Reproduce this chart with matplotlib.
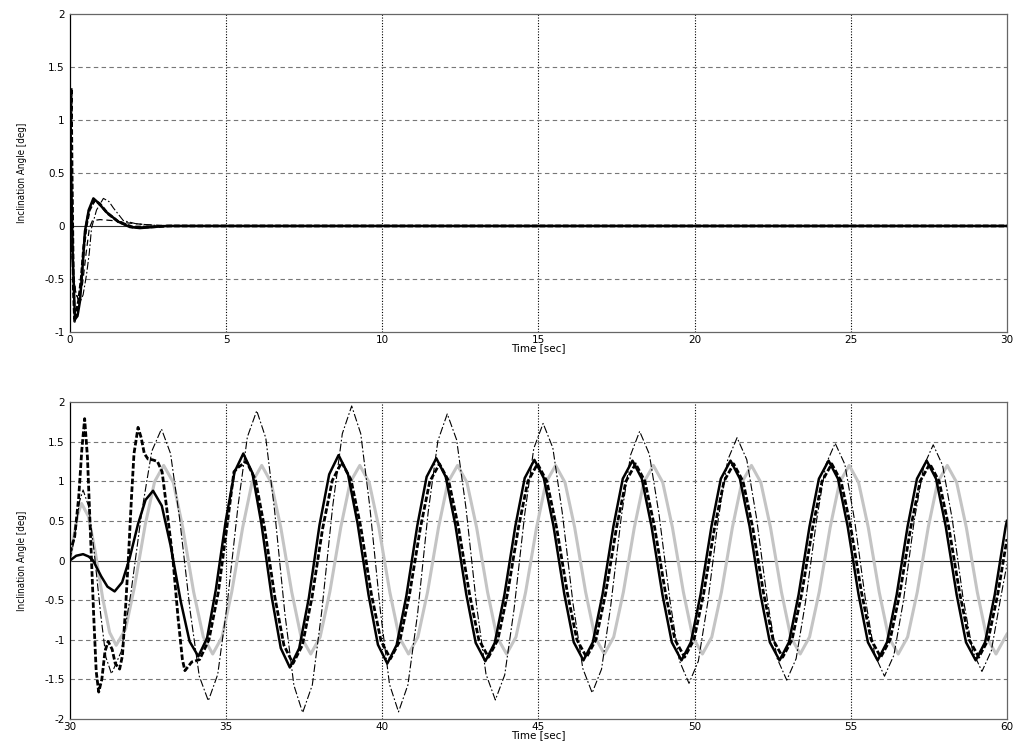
import matplotlib
matplotlib.use("Agg")
import matplotlib.pyplot as plt
from matplotlib.ticker import FormatStrFormatter

# ---- top panel (0..30 s), transient only ----
t_bs_top = [0, 0.03, 0.09, 0.16, 0.24, 0.32, 0.40, 0.48, 0.60, 0.75, 0.90, 1.17, 1.55, 1.92, 2.24, 2.67, 3.10, 4.0, 30]
v_bs_top = [0, 0.6, -0.3, -0.88, -0.85, -0.71, -0.40, -0.05, 0.15, 0.26, 0.22, 0.13, 0.04, -0.01, -0.02, -0.01, 0.0, 0.0, 0.0]

t_bd_top = [0, 0.02, 0.04, 0.07, 0.11, 0.15, 0.20, 0.28, 0.36, 0.44, 0.52, 0.62, 0.78, 0.95, 1.2, 1.55, 2.0, 2.5, 3.2, 30]
v_bd_top = [0, 0.9, 1.3, 0.4, -0.6, -0.9, -0.82, -0.7, -0.5, -0.2, 0.0, 0.15, 0.24, 0.21, 0.12, 0.04, -0.01, -0.01, 0.0, 0.0]

t_dd_top = [0, 0.05, 0.12, 0.20, 0.32, 0.42, 0.53, 0.62, 0.69, 0.85, 1.07, 1.25, 1.39, 1.71, 2.13, 3.0, 30]
v_dd_top = [0, -0.2, -0.5, -0.65, -0.72, -0.65, -0.46, -0.25, -0.02, 0.15, 0.26, 0.23, 0.17, 0.05, 0.02, 0.0, 0.0]

t_td_top = [0, 0.08, 0.18, 0.28, 0.40, 0.52, 0.62, 0.72, 0.96, 1.4, 1.81, 2.5, 3.5, 30]
v_td_top = [0, -0.35, -0.62, -0.7, -0.55, -0.25, -0.02, 0.05, 0.06, 0.05, 0.03, 0.01, 0.0, 0.0]

# ---- bottom panel (30..60 s) ----
# black solid
t_bs = [30.0, 30.2, 30.42, 30.6, 30.74, 31.0, 31.2, 31.43,
        31.67, 31.91, 32.18, 32.42, 32.66,
        32.94, 33.22, 33.55, 33.83, 34.11,
        34.39, 34.67, 34.99, 35.27, 35.55,
        35.84, 36.13, 36.46, 36.75, 37.04,
        37.34, 37.65, 37.99, 38.30, 38.60,
        38.90, 39.21, 39.56, 39.86, 40.16,
        40.46, 40.77, 41.12, 41.42, 41.73,
        42.03, 42.34, 42.69, 42.99, 43.30,
        43.60, 43.91, 44.26, 44.56, 44.87,
        45.17, 45.48, 45.83, 46.13, 46.44,
        46.74, 47.05, 47.40, 47.70, 48.01,
        48.31, 48.62, 48.97, 49.27, 49.58,
        49.88, 50.19, 50.54, 50.84, 51.15,
        51.45, 51.76, 52.11, 52.41, 52.72,
        53.02, 53.33, 53.68, 53.98, 54.29,
        54.59, 54.90, 55.25, 55.55, 55.86,
        56.16, 56.47, 56.82, 57.12, 57.43,
        57.73, 58.04, 58.39, 58.69, 59.00,
        59.30, 59.61, 59.96, 60.0]
v_bs = [0.0, 0.06, 0.08, 0.05, 0.0, -0.2, -0.33, -0.39,
        -0.275, 0.028, 0.462, 0.765, 0.88,
        0.691, 0.192, -0.522, -1.021, -1.21,
        -0.978, -0.368, 0.508, 1.118, 1.35,
        1.106, 0.462, -0.462, -1.106, -1.35,
        -1.107, -0.468, 0.448, 1.087, 1.33,
        1.092, 0.465, -0.435, -1.062, -1.30,
        -1.066, -0.448, 0.438, 1.056, 1.29,
        1.058, 0.448, -0.428, -1.038, -1.27,
        -1.040, -0.434, 0.434, 1.040, 1.27,
        1.041, 0.438, -0.428, -1.031, -1.26,
        -1.032, -0.431, 0.431, 1.032, 1.26,
        1.032, 0.431, -0.431, -1.032, -1.26,
        -1.032, -0.431, 0.431, 1.032, 1.26,
        1.032, 0.431, -0.431, -1.032, -1.26,
        -1.032, -0.431, 0.431, 1.032, 1.26,
        1.032, 0.431, -0.431, -1.032, -1.26,
        -1.032, -0.431, 0.431, 1.032, 1.26,
        1.032, 0.431, -0.431, -1.032, -1.26,
        -1.032, -0.431, 0.431, 0.50]

# light gray
t_g = [30.0, 30.12, 30.25, 30.37,
       30.59, 30.80, 31.05, 31.27, 31.48,
       31.78, 32.07, 32.41, 32.71, 33.0,
       33.31, 33.61, 33.96, 34.27, 34.57,
       34.87, 35.18, 35.53, 35.83, 36.14,
       36.44, 36.75, 37.10, 37.40, 37.71,
       38.01, 38.32, 38.67, 38.97, 39.28,
       39.58, 39.89, 40.24, 40.54, 40.84,
       41.14, 41.45, 41.80, 42.10, 42.41,
       42.71, 43.02, 43.37, 43.67, 43.98,
       44.28, 44.59, 44.94, 45.24, 45.55,
       45.85, 46.16, 46.51, 46.81, 47.11,
       47.41, 47.72, 48.07, 48.37, 48.68,
       48.98, 49.29, 49.64, 49.94, 50.25,
       50.55, 50.86, 51.21, 51.51, 51.82,
       52.12, 52.43, 52.78, 53.08, 53.38,
       53.68, 53.99, 54.34, 54.64, 54.95,
       55.25, 55.56, 55.91, 56.21, 56.52,
       56.82, 57.13, 57.48, 57.78, 58.09,
       58.39, 58.70, 59.05, 59.35, 59.65,
       59.95, 60.0]
v_g = [0.0, 0.3, 0.58, 0.72,
       0.558, 0.131, -0.481, -0.908, -1.07,
       -0.865, -0.323, 0.453, 0.995, 1.2,
       0.985, 0.417, -0.397, -0.965, -1.18,
       -0.965, -0.397, 0.417, 0.985, 1.2,
       0.985, 0.417, -0.397, -0.965, -1.18,
       -0.965, -0.397, 0.417, 0.985, 1.2,
       0.985, 0.417, -0.397, -0.965, -1.18,
       -0.965, -0.397, 0.417, 0.985, 1.2,
       0.985, 0.417, -0.397, -0.965, -1.18,
       -0.965, -0.397, 0.417, 0.985, 1.2,
       0.985, 0.417, -0.397, -0.965, -1.18,
       -0.965, -0.397, 0.417, 0.985, 1.2,
       0.985, 0.417, -0.397, -0.965, -1.18,
       -0.965, -0.397, 0.417, 0.985, 1.2,
       0.985, 0.417, -0.397, -0.965, -1.18,
       -0.965, -0.397, 0.417, 0.985, 1.2,
       0.985, 0.417, -0.397, -0.965, -1.18,
       -0.965, -0.397, 0.417, 0.985, 1.2,
       0.985, 0.417, -0.397, -0.965, -1.18,
       -0.965, -0.93]

# bold dashed
t_bd = [30.0, 30.15, 30.28, 30.38, 30.47, 30.56, 30.66, 30.76, 30.84, 30.92,
        31.02, 31.12, 31.22, 31.35, 31.45, 31.59, 31.68, 31.78, 31.88, 31.97,
        32.05, 32.18, 32.28, 32.38, 32.5, 32.65, 32.8, 32.95, 33.1, 33.3,
        33.46, 33.6, 33.68, 33.8, 33.9, 34.0, 34.15,
        34.45, 34.75, 35.05, 35.25, 35.4, 35.65,
        35.94, 36.23, 36.56, 36.85, 37.14,
        37.44, 37.75, 38.09, 38.40, 38.70,
        39.00, 39.31, 39.65, 39.96, 40.26,
        40.56, 40.87, 41.22, 41.52, 41.83,
        42.13, 42.44, 42.79, 43.09, 43.40,
        43.70, 44.01, 44.36, 44.66, 44.97,
        45.27, 45.58, 45.93, 46.23, 46.54,
        46.84, 47.15, 47.50, 47.80, 48.11,
        48.41, 48.72, 49.07, 49.37, 49.68,
        49.98, 50.29, 50.64, 50.94, 51.25,
        51.55, 51.86, 52.21, 52.51, 52.82,
        53.12, 53.43, 53.78, 54.08, 54.39,
        54.69, 55.00, 55.35, 55.65, 55.96,
        56.26, 56.57, 56.92, 57.22, 57.53,
        57.83, 58.14, 58.49, 58.79, 59.10,
        59.40, 59.71, 60.0]
v_bd = [0.1, 0.3, 0.8, 1.4, 1.79, 1.3, 0.3, -0.7, -1.4, -1.66,
        -1.5, -1.15, -1.02, -1.12, -1.3, -1.37, -1.2, -0.6, 0.1, 0.8,
        1.35, 1.68, 1.55, 1.35, 1.28, 1.27, 1.25, 1.12, 0.65, 0.0,
        -0.72, -1.25, -1.39, -1.33, -1.28, -1.27, -1.25,
        -1.0, -0.4, 0.5, 1.12, 1.18, 1.25,
        1.019, 0.411, -0.461, -1.069, -1.30,
        -1.070, -0.464, 0.404, 1.010, 1.24,
        1.016, 0.424, -0.424, -1.016, -1.24,
        -1.017, -0.431, 0.411, 0.997, 1.22,
        0.999, 0.417, -0.417, -0.999, -1.22,
        -0.999, -0.417, 0.417, 0.999, 1.22,
        0.999, 0.417, -0.417, -0.999, -1.22,
        -0.999, -0.417, 0.417, 0.999, 1.22,
        0.999, 0.417, -0.417, -0.999, -1.22,
        -0.999, -0.417, 0.417, 0.999, 1.22,
        0.999, 0.417, -0.417, -0.999, -1.22,
        -0.999, -0.417, 0.417, 0.999, 1.22,
        0.999, 0.417, -0.417, -0.999, -1.22,
        -0.999, -0.417, 0.417, 0.999, 1.22,
        0.999, 0.417, -0.417, -0.999, -1.22,
        -0.999, -0.417, 0.27]

# thin dash-dot
t_dd = [30.0, 30.1, 30.2, 30.31, 30.42,
        30.60, 30.77, 30.98, 31.15, 31.33,
        31.64, 31.95, 32.31, 32.62, 32.93,
        33.22, 33.51, 33.85, 34.14, 34.43,
        34.73, 35.03, 35.38, 35.68, 35.98,
        36.27, 36.55, 36.88, 37.17, 37.45,
        37.76, 38.06, 38.41, 38.72, 39.02,
        39.31, 39.60, 39.94, 40.23, 40.52,
        40.82, 41.13, 41.47, 41.78, 42.08,
        42.38, 42.68, 43.02, 43.32, 43.62,
        43.92, 44.22, 44.56, 44.85, 45.15,
        45.46, 45.76, 46.11, 46.42, 46.72,
        47.02, 47.31, 47.65, 47.95, 48.24,
        48.55, 48.86, 49.21, 49.51, 49.82,
        50.12, 50.42, 50.76, 51.06, 51.36,
        51.67, 51.98, 52.33, 52.64, 52.95,
        53.25, 53.55, 53.90, 54.20, 54.50,
        54.81, 55.12, 55.47, 55.77, 56.08,
        56.38, 56.69, 57.03, 57.34, 57.64,
        57.94, 58.25, 58.59, 58.90, 59.20,
        59.50, 59.80, 60.0]
v_dd = [0.0, 0.2, 0.45, 0.75, 0.89,
        0.68, 0.127, -0.667, -1.22, -1.43,
        -1.15, -0.413, 0.643, 1.38, 1.66,
        1.35, 0.532, -0.642, -1.46, -1.77,
        -1.439, -0.566, 0.686, 1.559, 1.89,
        1.545, 0.637, -0.667, -1.575, -1.92,
        -1.57, -0.647, 0.677, 1.60, 1.95,
        1.601, 0.68, -0.64, -1.561, -1.91,
        -1.57, -0.673, 0.613, 1.51, 1.85,
        1.523, 0.662, -0.572, -1.433, -1.76,
        -1.444, -0.612, 0.582, 1.414, 1.73,
        1.422, 0.611, -0.551, -1.362, -1.67,
        -1.371, -0.584, 0.544, 1.331, 1.63,
        1.342, 0.584, -0.504, -1.262, -1.55,
        -1.269, -0.530, 0.530, 1.269, 1.55,
        1.273, 0.543, -0.503, -1.233, -1.51,
        -1.239, -0.526, 0.496, 1.209, 1.48,
        1.214, 0.513, -0.493, -1.194, -1.46,
        -1.196, -0.499, 0.499, 1.196, 1.46,
        1.201, 0.519, -0.459, -1.141, -1.40,
        -1.14, -0.47, -0.05]

xticks_top = [0, 5, 10, 15, 20, 25, 30]
yticks_top = [-1, -0.5, 0, 0.5, 1, 1.5, 2]
xticks_bot = [30, 35, 40, 45, 50, 55, 60]
yticks_bot = [-2, -1.5, -1, -0.5, 0, 0.5, 1, 1.5, 2]

fig = plt.figure(figsize=(10.17, 7.42), dpi=100)
ax1 = fig.add_axes([0.0688, 0.5526, 0.9213, 0.4286])
ax2 = fig.add_axes([0.0688, 0.0310, 0.9213, 0.4272])

bs_style = dict(color='black', lw=1.8, zorder=5)
g_style = dict(color='#c4c4c4', lw=2.2, zorder=2)
bd_style = dict(color='black', lw=2.0, linestyle=(0, (2.0, 0.8)), zorder=4)
dd_style = dict(color='black', lw=0.8, linestyle=(0, (7, 2, 1.5, 2)), zorder=3)


def setup(ax, xt, yt):
    ax.set_xlim(xt[0], xt[-1])
    ax.set_ylim(yt[0], yt[-1])
    ax.set_xticks(xt)
    ax.set_yticks(yt)
    ax.yaxis.set_major_formatter(FormatStrFormatter('%g'))
    ax.tick_params(length=0, labelsize=7.5)
    ax.tick_params(axis='x', pad=2)
    ax.tick_params(axis='y', pad=4)
    # grid: dotted verticals, dashed horizontals
    for x in xt[1:-1]:
        ax.axvline(x, color='black', lw=0.8, linestyle=(0, (1, 1.5)), zorder=1)
    for y in yt[1:-1]:
        if y != 0:
            ax.axhline(y, color='#777777', lw=0.8, linestyle=(0, (4, 3)), zorder=1)
    ax.axhline(0, color='#333333', lw=0.8, zorder=1)
    for s in ax.spines.values():
        s.set_color('#666666')
        s.set_linewidth(0.9)
    ax.spines['left'].set_color('black')
    ax.set_xlabel('Time [sec]', fontsize=7.5, labelpad=-1)
    ax.set_ylabel('Inclination Angle [deg]', fontsize=7,
                  family=['Liberation Sans Narrow', 'DejaVu Sans'],
                  fontstretch='condensed', labelpad=12)


setup(ax1, xticks_top, yticks_top)
setup(ax2, xticks_bot, yticks_bot)

# top panel
ax1.plot(t_td_top, v_td_top, color='black', lw=0.9, linestyle=(0, (5, 3)), zorder=3)
ax1.plot(t_dd_top, v_dd_top, **dd_style)
ax1.plot(t_bd_top, v_bd_top, **bd_style)
ax1.plot(t_bs_top, v_bs_top, **bs_style)

# bottom panel
ax2.plot(t_g, v_g, **g_style)
ax2.plot(t_dd, v_dd, **dd_style)
ax2.plot(t_bd, v_bd, **bd_style)
ax2.plot(t_bs, v_bs, **bs_style)

fig.savefig('out.png', dpi=100)
